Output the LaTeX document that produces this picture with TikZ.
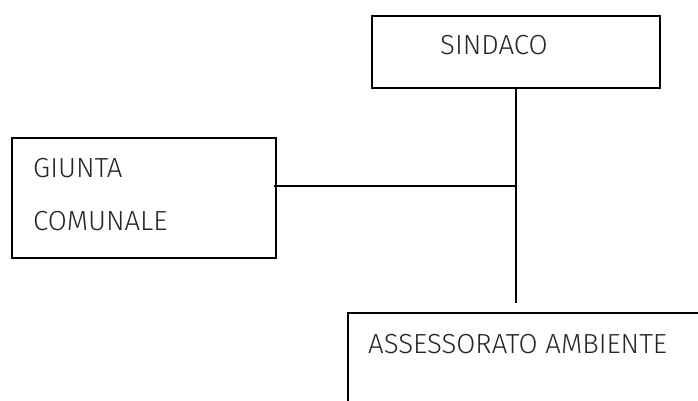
\documentclass[tikz,border=0pt]{standalone}
\usepackage{fontspec}
\setmainfont{Fira Sans}[UprightFont=* Light]
\begin{document}
\begin{tikzpicture}[x=1pt,y=-1pt,
  orgbox/.style={draw=black,line width=1.9pt,fill=none,inner sep=0pt},
  orgtext/.style={anchor=base west,inner sep=0pt,font=\fontsize{27.6}{32}\selectfont,text=black!85},
  link/.style={draw=black,line width=1.7pt}]
  \useasboundingbox (0,0) rectangle (698,400);
  \clip (0,0) rectangle (698,400);
  % boxes
  \node[orgbox,minimum width=288pt,minimum height=72pt,anchor=north west] (sindaco) at (371,15) {};
  \node[orgbox,minimum width=264pt,minimum height=120pt,anchor=north west] (giunta) at (11,137) {};
  \node[orgbox,minimum width=380pt,minimum height=120pt,anchor=north west] (assessorato) at (347,312) {};
  % labels
  \node[orgtext] (tsindaco) at (440,54) {SINDACO};
  \node[orgtext] (tgiunta) at (33,177) {GIUNTA};
  \node[orgtext] (tcomunale) at (33,230) {COMUNALE};
  \node[orgtext] (tass) at (368,353) {ASSESSORATO AMBIENTE};
  % connectors
  \coordinate (junction) at (sindaco.south |- 0,186);
  \coordinate (stem) at (sindaco.south |- 0,303);
  \draw[link] (sindaco.south) -- (stem);
  \draw[link] ([xshift=-3pt]giunta.east |- junction) -- (junction);
\end{tikzpicture}
\end{document}
